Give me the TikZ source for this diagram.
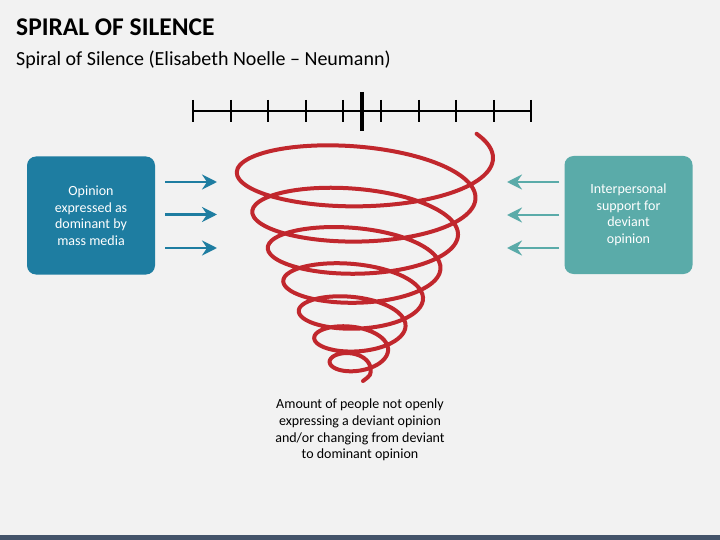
\documentclass[tikz,border=0pt]{standalone}
\usepackage{fontspec}
\setmainfont{Carlito}
\usetikzlibrary{arrows.meta}
\definecolor{slidebg}{HTML}{F2F2F2}
\definecolor{footbar}{HTML}{44546A}
\definecolor{mediablue}{HTML}{1E7DA1}
\definecolor{supportteal}{HTML}{5AABA9}
\definecolor{spiralred}{HTML}{C1272D}

\begin{document}
\begin{tikzpicture}[x=1pt,y=-1pt,
    box/.style={rounded corners=9pt,minimum width=128pt,minimum height=118pt,align=center,text=white,font=\fontsize{14}{16.5}\selectfont},
    push/.style={line width=2.5pt,-{Stealth[length=15pt,width=15pt,inset=5pt]}}]
  \useasboundingbox (0,0) rectangle (720,540);
  \fill[slidebg] (0,0) rectangle (720,540);
  \fill[footbar] (0,535) rectangle (720,540);
  \node[anchor=base west,inner sep=0pt,font=\bfseries\fontsize{25.5}{30}\selectfont] (title) at (16,36) {SPIRAL OF SILENCE};
  \node[anchor=base west,inner sep=0pt,font=\fontsize{20}{24}\selectfont] (subtitle) at (16,66) {Spiral of Silence (Elisabeth Noelle – Neumann)};

  \draw[line width=2pt] (193,111) -- (531,111);
  \foreach \x in {193,230.5,268,305.5,343,381,418.5,456,493.5,531}
    \draw[line width=2pt] (\x,100) -- (\x,122);
  \draw[line width=3.5pt] (362,92) -- (362,131);

  \draw[spiralred,line width=4pt,line cap=round,line join=round]
    plot[domain=-30:2502,samples=400,smooth,variable=\t]
      ({361-(\t/360)+(132-16.5*(\t/360))*cos(\t)},
       {155+41.89*(\t/360)-1.556*(\t/360)^2+(42-4.3*(\t/360))*sin(\t)+0.03*(132-16.5*(\t/360))*cos(\t)})
    .. controls (371,375) .. (363,381);

  \node[box,fill=mediablue] (media) at (91,215.5) {Opinion\\expressed as\\dominant by\\mass media};
  \node[box,fill=supportteal] (support) at (628.5,215) {Interpersonal\\support for\\deviant\\opinion};

  \coordinate (m1s) at (165,182);   \coordinate (m1e) at (217,182);
  \coordinate (m2s) at (165,214.5); \coordinate (m2e) at (217,214.5);
  \coordinate (m3s) at (165,248);   \coordinate (m3e) at (217,248);
  \coordinate (s1s) at (559,182);   \coordinate (s1e) at (507,182);
  \coordinate (s2s) at (559,215);   \coordinate (s2e) at (507,215);
  \coordinate (s3s) at (559,248);   \coordinate (s3e) at (507,248);
  \draw[push,mediablue] (m1s) -- (m1e);
  \draw[push,mediablue] (m2s) -- (m2e);
  \draw[push,mediablue] (m3s) -- (m3e);
  \draw[push,supportteal] (s1s) -- (s1e);
  \draw[push,supportteal] (s2s) -- (s2e);
  \draw[push,supportteal] (s3s) -- (s3e);

  \node[align=center,font=\fontsize{14}{16.7}\selectfont] (amount) at (360,430) {Amount of people not openly\\expressing a deviant opinion\\and/or changing from deviant\\to dominant opinion};
\end{tikzpicture}
\end{document}
